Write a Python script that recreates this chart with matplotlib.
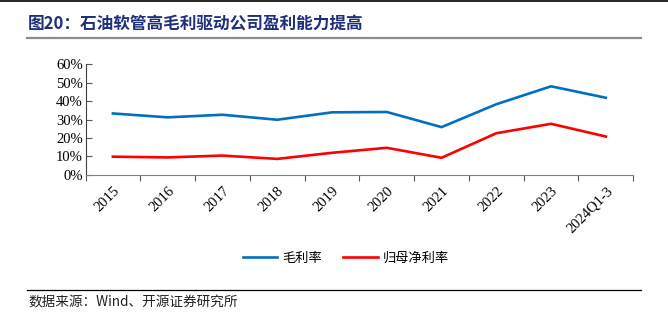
import matplotlib
matplotlib.use("Agg")
import matplotlib.pyplot as plt
from matplotlib.lines import Line2D
from matplotlib.ticker import FixedLocator, FuncFormatter

plt.rcParams['font.family'] = ['Noto Sans CJK SC', 'DejaVu Sans']

categories = ["2015", "2016", "2017", "2018", "2019", "2020", "2021", "2022", "2023", "2024Q1-3"]
gross_margin = [33.3, 31.2, 32.6, 29.9, 33.9, 34.1, 25.9, 38.3, 48.0, 41.8]
net_margin = [9.9, 9.5, 10.5, 8.7, 12.0, 14.7, 9.3, 22.6, 27.7, 20.8]
series_names = ["毛利率", "归母净利率"]
y_ticks = [0, 10, 20, 30, 40, 50, 60]

title_text = "图20：石油软管高毛利驱动公司盈利能力提高"
source_text = "数据来源：Wind、开源证券研究所"

fig = plt.figure(figsize=(6.68, 3.24), dpi=100)
ax = fig.add_axes([0.128, 0.46, 0.82, 0.342])

x = list(range(len(categories)))
l1, = ax.plot(x, gross_margin, color="#0070C0", lw=1.9, solid_joinstyle="miter")
l2, = ax.plot(x, net_margin, color="#FF0000", lw=1.9, solid_joinstyle="miter")

ax.set_xlim(-0.5, len(categories) - 0.5)
ax.set_ylim(0, 60)
ax.set_yticks(y_ticks)
ax.yaxis.set_major_formatter(FuncFormatter(lambda v, p: f"{v:.0f}%"))
ax.xaxis.set_major_locator(FixedLocator([i - 0.5 for i in range(len(categories) + 1)]))
ax.xaxis.set_minor_locator(FixedLocator(x))
ax.set_xticklabels([], minor=False)
ax.set_xticklabels(categories, minor=True, rotation=45, ha="right",
                   rotation_mode="anchor", family="Liberation Serif", fontsize=10.5)
ax.tick_params(axis="x", which="minor", length=0, pad=7)
ax.tick_params(axis="x", which="major", direction="out", length=4, color="#595959", width=0.8)
ax.tick_params(axis="y", direction="in", length=4, color="#595959", width=0.8, pad=2,
               labelfontfamily="Liberation Serif", labelsize=10.5)

for s in ["top", "right"]:
    ax.spines[s].set_visible(False)
ax.spines["left"].set_color("#404040")
ax.spines["bottom"].set_color("#808080")
ax.spines["left"].set_linewidth(0.8)
ax.spines["bottom"].set_linewidth(0.8)

fig.legend([l1, l2], series_names, loc="center", bbox_to_anchor=(0.518, 0.203),
           ncol=2, frameon=False, fontsize=9.5, handlelength=2.6, columnspacing=1.6,
           handletextpad=0.4)

# decorative rules and captions
fig.add_artist(Line2D([0.0, 1.0], [0.997, 0.997], color="black", lw=1.2))
fig.add_artist(Line2D([0.04, 0.96], [0.882, 0.882], color="#8C8C8C", lw=1.6))
fig.add_artist(Line2D([0.04, 0.96], [0.105, 0.105], color="black", lw=0.9))
fig.text(0.042, 0.925, title_text, fontsize=12, fontweight="bold", color="#1F2F7A",
         va="center", ha="left")
fig.text(0.042, 0.066, source_text, fontsize=9.8, color="#222222", va="center", ha="left",
         family=["Noto Sans CJK SC", "DejaVu Sans"])

fig.savefig("out.png", dpi=100)
